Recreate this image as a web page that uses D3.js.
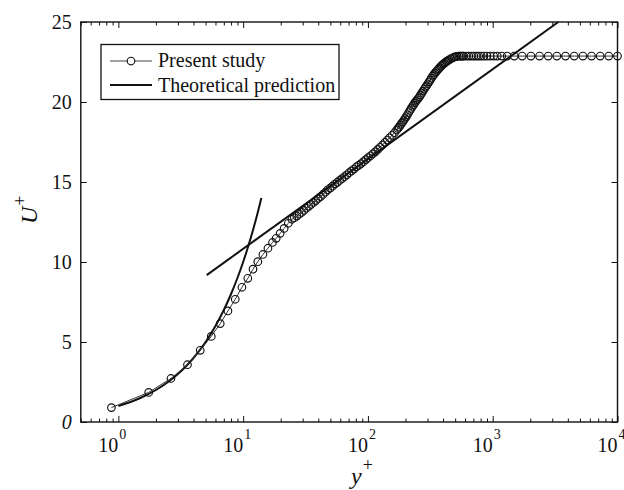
<!DOCTYPE html>
<html>
<head>
<meta charset="utf-8">
<script src="https://cdn.jsdelivr.net/npm/d3@7"></script>
<style>
  body { margin: 0; background: #fff; }
  svg text { font-family: "Liberation Serif", "Times New Roman", serif; fill: #111; }
</style>
</head>
<body>
<svg id="chart" width="624" height="490"></svg>
<script>
// Present study (y+, U+)
const yPlus = [
  0.88, 1.75, 2.64, 3.58, 4.53, 5.55, 6.55, 7.55, 8.64, 9.78, 10.9, 12.0, 13.1, 14.4, 15.8, 17.2, 18.4, 19.8, 21.3, 23.0, 24.6,
  25.7, 26.9, 28.1, 29.4, 30.7, 32.1, 33.5, 35.0, 36.6, 38.2, 39.9, 41.7, 43.6, 45.6, 47.6, 49.8, 52.0, 54.3, 56.8, 59.3,
  62.0, 64.8, 67.7, 70.7, 73.9, 77.2, 80.7, 84.3, 88.1, 92.1, 96.2, 100.5, 105, 110, 115, 120, 125, 131, 137, 143, 149,
  156, 163, 170, 174, 178, 182, 186, 190, 194, 198, 203, 207, 212, 217, 222, 227, 232, 237, 242, 248, 253, 259, 264, 270,
  276, 283, 289, 295, 302, 309, 315, 322, 330, 337, 344, 352, 360, 368, 376, 384, 393, 401, 410, 420, 429, 438, 448, 460,
  475, 490, 505, 520, 535, 550, 562, 574, 586, 614, 643, 673, 705, 738, 772, 808, 850, 899, 955, 1018, 1086, 1180, 1306,
  1487, 1723, 2023, 2372, 2786, 3267, 3830, 4500, 5280, 6190, 7266, 8510, 10000
];
const uPlus = [
  0.9, 1.85, 2.72, 3.58, 4.48, 5.35, 6.15, 6.94, 7.67, 8.42, 8.98, 9.55, 10.02, 10.47, 10.86, 11.22, 11.48, 11.79, 12.1, 12.42, 12.67,
  12.77, 12.87, 12.99, 13.10, 13.22, 13.36, 13.48, 13.60, 13.72, 13.84, 13.97, 14.09, 14.22, 14.36, 14.51, 14.62, 14.74, 14.87, 14.98, 15.10,
  15.21, 15.33, 15.45, 15.58, 15.69, 15.81, 15.95, 16.04, 16.15, 16.27, 16.40, 16.52, 16.64, 16.77, 16.9, 17.04, 17.17, 17.32, 17.48, 17.62, 17.76,
  17.92, 18.08, 18.25, 18.35, 18.44, 18.55, 18.66, 18.75, 18.86, 18.97, 19.09, 19.20, 19.34, 19.47, 19.60, 19.72, 19.82, 19.94, 20.04, 20.14, 20.23, 20.33, 20.44, 20.55,
  20.68, 20.81, 20.92, 21.02, 21.14, 21.26, 21.36, 21.49, 21.61, 21.71, 21.80, 21.90, 21.98, 22.07, 22.15, 22.23, 22.30, 22.37, 22.43, 22.49, 22.55, 22.59, 22.64, 22.70,
  22.75, 22.80, 22.83, 22.85, 22.86, 22.87, 22.87, 22.87, 22.87, 22.87, 22.87, 22.87, 22.87, 22.87, 22.87, 22.87, 22.87, 22.87, 22.87, 22.87, 22.87, 22.87, 22.87,
  22.87, 22.87, 22.87, 22.87, 22.87, 22.87, 22.87, 22.87, 22.87, 22.87, 22.87, 22.87, 22.87
];

// Theoretical prediction: viscous sublayer and log law
const linYPlus = [1, 1.5, 2, 2.5, 3, 3.5, 4, 5, 6, 7, 8, 9, 10, 11, 12, 13, 14];
const linUPlus = [1, 1.5, 2, 2.5, 3, 3.5, 4, 5, 6, 7, 8, 9, 10, 11, 12, 13, 14];
const logYPlus = [5.1, 3354];
const logUPlus = [9.18, 25.0];

// Axis ticks
const xMajor = [1, 10, 100, 1000, 10000];
const xExp = ["0", "1", "2", "3", "4"];
const yTicks = [0, 5, 10, 15, 20, 25];

const svg = d3.select("#chart");
const plotLeft = 80.8, plotRight = 617.5, plotTop = 22, plotBottom = 422;

const x = d3.scaleLog().domain([0.5, 10000]).range([plotLeft, plotRight]);
const y = d3.scaleLinear().domain([0, 25]).range([plotBottom, plotTop]);

const minor = x.ticks().filter(v => !xMajor.includes(v));

// Bottom and top ticks (inward)
function xTicks(axisFn, yPos, values, size) {
    svg.append("g")
        .attr("transform", `translate(0,${yPos})`)
        .call(axisFn(x).tickValues(values).tickSize(-size).tickFormat(""))
        .call(g => g.select(".domain").remove())
        .selectAll("line").attr("stroke", "#111").attr("stroke-width", 1);
}
xTicks(d3.axisBottom, plotBottom, minor, 3.5);
xTicks(d3.axisBottom, plotBottom, xMajor, 6);
xTicks(d3.axisTop, plotTop, minor, 3.5);
xTicks(d3.axisTop, plotTop, xMajor, 6);

// Left and right ticks
const yLeft = svg.append("g")
    .attr("transform", `translate(${plotLeft},0)`)
    .call(d3.axisLeft(y).tickValues(yTicks).tickSize(-6).tickPadding(9))
    .call(g => g.select(".domain").remove());
yLeft.selectAll("line").attr("stroke", "#111");
yLeft.selectAll("text")
    .attr("font-size", 20)
    .attr("font-family", "Liberation Serif, serif")
    .attr("fill", "#111")
    .attr("dy", "0.32em")
    .style("font-style", d => d === 0 ? "italic" : "normal");

svg.append("g")
    .attr("transform", `translate(${plotRight},0)`)
    .call(d3.axisRight(y).tickValues(yTicks).tickSize(-6).tickFormat(""))
    .call(g => g.select(".domain").remove())
    .selectAll("line").attr("stroke", "#111");

// x tick labels as 10^n
xMajor.forEach((v, i) => {
    svg.append("text")
        .attr("x", x(v))
        .attr("y", 452)
        .attr("text-anchor", "end")
        .attr("font-size", 20)
        .text("10");
    svg.append("text")
        .attr("x", x(v) + 1)
        .attr("y", 439)
        .attr("font-size", 14)
        .text(xExp[i]);
});

// Frame
svg.append("rect")
    .attr("x", plotLeft).attr("y", plotTop)
    .attr("width", plotRight - plotLeft).attr("height", plotBottom - plotTop)
    .attr("fill", "none")
    .attr("stroke", "#111")
    .attr("stroke-width", 1.4);

// Theoretical lines
svg.append("path")
    .datum(linYPlus.map((v, i) => [v, linUPlus[i]]))
    .attr("d", d3.line().x(d => x(d[0])).y(d => y(d[1])).curve(d3.curveMonotoneX))
    .attr("fill", "none").attr("stroke", "#111").attr("stroke-width", 2);
svg.append("path")
    .datum(logYPlus.map((v, i) => [v, logUPlus[i]]))
    .attr("d", d3.line().x(d => x(d[0])).y(d => y(d[1])))
    .attr("fill", "none").attr("stroke", "#111").attr("stroke-width", 2);

// Present study
const pts = yPlus.map((v, i) => [v, uPlus[i]]);
svg.append("path")
    .datum(pts)
    .attr("d", d3.line().x(d => x(d[0])).y(d => y(d[1])))
    .attr("fill", "none").attr("stroke", "#333").attr("stroke-width", 1);
svg.append("g")
    .selectAll("circle")
    .data(pts)
    .enter()
    .append("circle")
    .attr("cx", d => x(d[0]))
    .attr("cy", d => y(d[1]))
    .attr("r", 3.8)
    .attr("fill", "none")
    .attr("stroke", "#111")
    .attr("stroke-width", 1.15);

// Legend
const legend = svg.append("g");
legend.append("rect")
    .attr("x", 101).attr("y", 44.5).attr("width", 238).attr("height", 55)
    .attr("fill", "#fff").attr("stroke", "#111").attr("stroke-width", 1.3);
legend.append("line")
    .attr("x1", 110).attr("x2", 152).attr("y1", 61).attr("y2", 61)
    .attr("stroke", "#444").attr("stroke-width", 1);
legend.append("circle")
    .attr("cx", 131).attr("cy", 61).attr("r", 3.8)
    .attr("fill", "#fff").attr("stroke", "#111").attr("stroke-width", 1.15);
legend.append("text").attr("x", 158).attr("y", 67).attr("font-size", 20).text("Present study");
legend.append("line")
    .attr("x1", 110).attr("x2", 152).attr("y1", 85).attr("y2", 85)
    .attr("stroke", "#111").attr("stroke-width", 2);
legend.append("text").attr("x", 158).attr("y", 92).attr("font-size", 20).text("Theoretical prediction");

// Axis titles
const yt = svg.append("text")
    .attr("transform", "translate(37,224) rotate(-90)")
    .attr("font-size", 24)
    .attr("font-style", "italic");
yt.append("tspan").text("U");
yt.append("tspan").attr("font-size", 18).attr("font-style", "normal").attr("dx", 1).attr("dy", -11).text("+");

const xt = svg.append("text")
    .attr("x", 351).attr("y", 484)
    .attr("font-size", 24)
    .attr("font-style", "italic");
xt.append("tspan").text("y");
xt.append("tspan").attr("font-size", 18).attr("font-style", "normal").attr("dx", 1).attr("dy", -13).text("+");
</script>
</body>
</html>
